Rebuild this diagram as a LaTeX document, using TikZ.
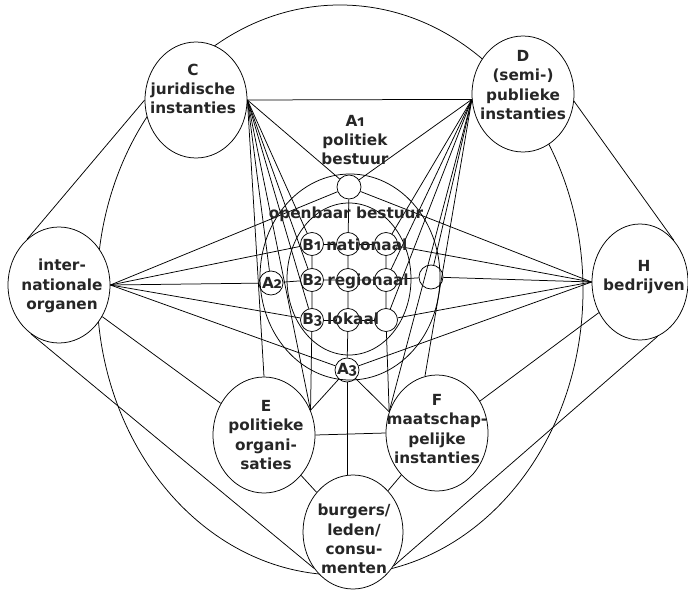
\documentclass[tikz,border=0pt]{standalone}
\usepackage{fontspec}
\setmainfont{DejaVu Sans}
\newfontfamily\numf{Fira Sans}[Numbers=OldStyle]
\newcommand{\osn}[1]{{\numf #1}}
\usetikzlibrary{shapes.geometric}
\begin{document}
\begin{tikzpicture}[x=1pt,y=-1pt,line width=0.75pt,
  big/.style={ellipse,draw,fill=white,minimum width=102pt,minimum height=116pt,inner sep=0pt},
  ring/.style={ellipse,draw,inner sep=0pt},
  sm/.style={circle,draw,minimum size=24pt,inner sep=0pt},
  smg/.style={circle,draw,minimum size=23pt,inner sep=0pt},
  lbl/.style={align=center,font=\bfseries\fontsize{15.3}{19.3}\selectfont,inner sep=0pt,text=black!85},
  glbl/.style={anchor=west,font=\bfseries\fontsize{15.3}{19.3}\selectfont,inner sep=0pt,text=black!85}]
\useasboundingbox (0,0) rectangle (688,589);
% outer society ellipse
\node[ring,minimum width=486pt,minimum height=570pt] (outer) at (340,290) {};
% outer nodes
\node[big] (C) at (196,100) {};
\node[big] (D) at (523,94) {};
\node[big] (I) at (59,285) {};
\node[big,minimum width=96pt] (H) at (640,282) {};
\node[big] (E) at (264,435) {};
\node[big] (F) at (437,433) {};
\node[big,minimum width=100pt,minimum height=114pt] (G) at (353,532) {};
% inner ellipses
\node[ring,minimum width=180pt,minimum height=206pt] (ringA) at (350,277) {};
\node[ring,minimum width=124pt,minimum height=152pt] (ringB) at (349,279) {};
% small circles
\node[sm] (A1) at (349,187) {};
\node[sm] (A2) at (271,283) {};
\node[sm] (A3) at (347,370) {};
\node[sm] (A4) at (431,277) {};
\node[smg] (B11) at (312,244) {};
\node[smg] (B12) at (348,244) {};
\node[smg] (B13) at (386,244) {};
\node[smg] (B21) at (312,280) {};
\node[smg] (B22) at (348,280) {};
\node[smg] (B23) at (386,280) {};
\node[smg] (B31) at (312,320) {};
\node[smg] (B32) at (348,320) {};
\node[smg] (B33) at (386,320) {};
% connectors from C
\draw (C.east) -- (D.186);
\foreach \t in {A1,A2,B11,B21,B31} \draw (C.east) -- (\t);
\draw (C.east) -- (E.28);
\draw (C.east) -- (E.north);
% connectors from D
\foreach \t in {A1,A4,B13,B23,B33} \draw (D.186) -- (\t);
\draw (D.186) -- (F.156);
\draw (D.186) -- (F.102);
% connectors from I
\foreach \t in {A1,B11,A2,B31,A3} \draw (I.east) -- (\t);
\draw (I) -- (E);
\draw (I.125) -- (C.west);
\draw (I.240) -- (G.223);
% connectors from H
\foreach \t in {A1,B13,A4,B33,A3} \draw (H.west) -- (\t);
\draw (H) -- (F);
\draw (D.-8) -- (H.51);
\draw (H.-72) -- (G.-40);
% lower nodes
\draw (E.east) -- (F.west);
\draw (E) -- (G);
\draw (F) -- (G);
\draw (A3) -- (E.28);
\draw (A3) -- (F.156);
\draw (A3.south) -- (A3.south |- G.north);
% grid
\draw (A1) -- (B12) -- (B22) -- (B32) -- (A3);
\draw (B11) -- (B21) -- (B31) -- (E.28);
\draw (B13) -- (B23) -- (B33) -- (F.156);
\draw (B11) -- (B12) -- (B13);
\draw (A2) -- (B21) -- (B22) -- (B23) -- (A4);
\draw (B31) -- (B32) -- (B33);
% labels
\node[lbl] (Ct) at (193,89) {C\\juridische\\instanties};
\node[lbl] (Dt) at (523,85) {D\\(semi-)\\publieke\\instanties};
\node[lbl] (It) at (62,286) {inter-\\nationale\\organen};
\node[lbl] (Ht) at (644,277) {H\\bedrijven};
\node[lbl] (Et) at (266,435) {E\\politieke\\organi-\\saties};
\node[lbl] (Ft) at (437,429) {F\\maatschap-\\pelijke\\instanties};
\node[lbl] (Gt) at (354,539) {burgers/\\leden/\\consu-\\menten};
\node[lbl] (A1t) at (355,140) {A\osn{1}\\politiek\\bestuur};
\node[lbl] (A2t) at (272,283) {A\osn{2}};
\node[lbl] (A3t) at (347,370) {A\osn{3}};
\node[lbl] (OBt) at (346,214) {openbaar bestuur};
\node[glbl] (B1t) at (302,245) {B\osn{1} nationaal};
\node[glbl] (B2t) at (302,281) {B\osn{2} regionaal};
\node[glbl] (B3t) at (302,320) {B\osn{3} lokaal};
\end{tikzpicture}
\end{document}
